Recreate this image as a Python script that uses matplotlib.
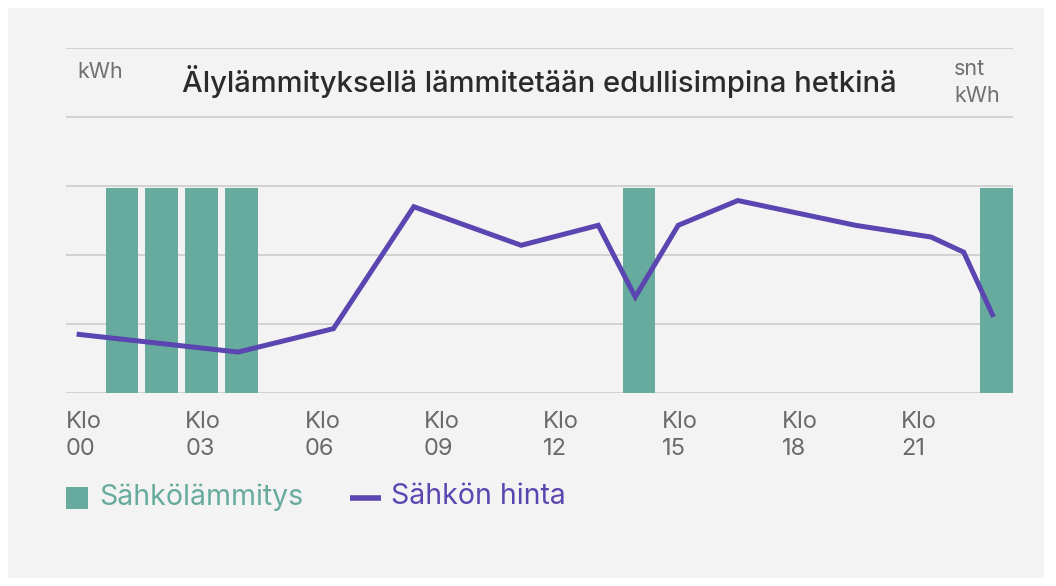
import matplotlib
matplotlib.use("Agg")
import matplotlib.pyplot as plt
from matplotlib.patches import Rectangle
from matplotlib.lines import Line2D

plt.rcParams['font.family'] = ['Inter', 'DejaVu Sans']

# heating hours (bars) and electricity price (line)
heat_hours = [1, 2, 3, 4, 14, 23]
heat_values = [2.97, 2.97, 2.97, 2.97, 2.97, 2.97]

price_hours = [0.27, 4.33, 6.73, 8.75, 11.45, 13.39, 14.32, 15.40, 16.90, 19.86, 21.76, 22.58, 23.33]
price_values = [0.85, 0.59, 0.93, 2.70, 2.14, 2.43, 1.39, 2.43, 2.79, 2.43, 2.26, 2.04, 1.10]

tick_hours = [0, 3, 6, 9, 12, 15, 18, 21]
tick_labels = ['Klo\n00', 'Klo\n03', 'Klo\n06', 'Klo\n09', 'Klo\n12', 'Klo\n15', 'Klo\n18', 'Klo\n21']

green = '#66ab9d'
purple = '#5b45b0'
bg = '#f3f3f3'
W, H = 1056, 586

fig = plt.figure(figsize=(W / 100, H / 100), dpi=100, facecolor='white')
fig.patches.append(Rectangle((8 / W, 8 / H), 1036 / W, 570 / H, transform=fig.transFigure,
                             facecolor=bg, edgecolor='none', zorder=-10))

ax = fig.add_axes([65.9 / W, 1 - 392.7 / H, (1013 - 65.9) / W, (392.7 - 48.3) / H])
ax.patch.set_alpha(0)

ax.bar(heat_hours, heat_values, width=0.82, align='edge', color=green, zorder=2)
ax.plot(price_hours, price_values, color=purple, linewidth=3.6,
        solid_joinstyle='miter', solid_capstyle='butt', zorder=3)

ax.set_xlim(0, 23.82)
ax.set_ylim(0, 5)
ax.set_yticks([0, 1, 2, 3, 4, 5])
ax.yaxis.grid(True, color='#cfcfcf', linewidth=1.3)
ax.set_axisbelow(True)
ax.tick_params(axis='y', length=0, labelleft=False)
for s in ax.spines.values():
    s.set_visible(False)

ax.set_xticks(tick_hours, tick_labels)
ax.tick_params(axis='x', length=0, pad=13, labelsize=17, labelcolor='#6a6a6a')
for lab in ax.get_xticklabels():
    lab.set_horizontalalignment('left')
    lab.set_linespacing(1.28)

# header inside the top band
ax.text(0.5, 4.52, 'Älylämmityksellä lämmitetään edullisimpina hetkinä',
        transform=ax.get_yaxis_transform(), ha='center', va='center',
        fontsize=21, fontweight='medium', color='#2b2b2b')
ax.text(0.012, 4.65, 'kWh', transform=ax.get_yaxis_transform(), ha='left', va='center',
        fontsize=15.5, color='#707070')
ax.text(0.938, 4.50, 'snt\nkWh', transform=ax.get_yaxis_transform(), ha='left', va='center',
        fontsize=15.5, color='#707070', linespacing=1.45)

# legend
fig.patches.append(Rectangle((66 / W, 1 - 509 / H), 22 / W, 22 / H, transform=fig.transFigure,
                             facecolor=green, edgecolor='none'))
fig.add_artist(Line2D([350 / W, 381 / W], [1 - 498 / H] * 2, transform=fig.transFigure,
                      color=purple, linewidth=4, solid_capstyle='butt'))
fig.text(99 / W, 1 - 497 / H, 'Sähkölämmitys', ha='left', va='center', fontsize=20.5, color=green)
fig.text(391 / W, 1 - 497 / H, 'Sähkön hinta', ha='left', va='center', fontsize=20.5, color=purple)

fig.savefig('out.png', dpi=100, facecolor='white')
